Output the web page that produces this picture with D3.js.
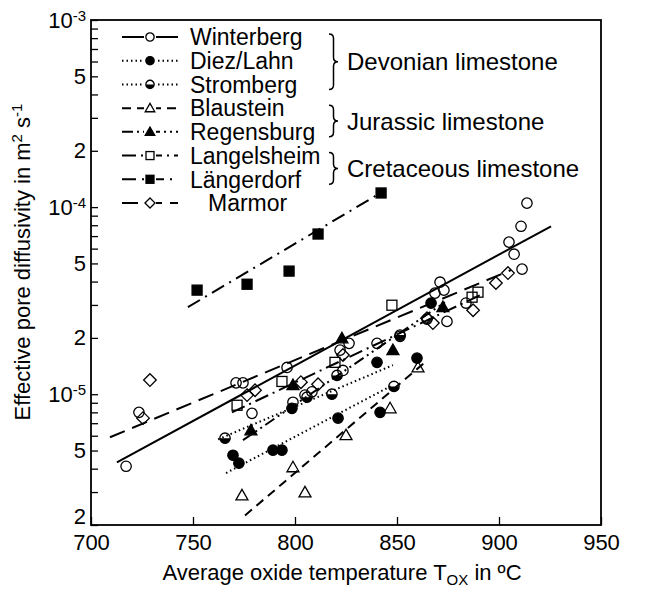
<!DOCTYPE html>
<html>
<head>
<meta charset="utf-8">
<script src="https://cdn.jsdelivr.net/npm/d3@7"></script>
<style>
  body { margin: 0; background: #fff; }
  text { font-family: "Liberation Sans", Arial, sans-serif; fill: #000; }
</style>
</head>
<body>
<div id="chart"></div>
<script>
// ---- data: [temperature °C, diffusivity m2/s] ----
const seriesNames = ["Winterberg", "Diez/Lahn", "Stromberg", "Blaustein", "Regensburg", "Langelsheim", "Längerdorf", "Marmor"];

const winterberg = [[717.2,4.12e-6],[723.5,8.0e-6],[771.1,1.15e-5],[774.5,1.15e-5],[778.9,7.9e-6],[796.1,1.39e-5],
  [799.0,9.06e-6],[804.9,9.9e-6],[808.3,1.03e-5],[823.5,1.34e-5],[822.1,1.72e-5],[826.5,1.87e-5],[840.2,1.87e-5],
  [851.5,2.04e-5],[864.7,2.52e-5],[871.1,3.97e-5],[868.6,3.47e-5],[873.0,3.6e-5],[874.5,2.45e-5],[883.8,3.07e-5],
  [904.9,6.5e-5],[907.4,5.6e-5],[911.3,4.66e-5],[910.8,7.9e-5],[913.7,1.05e-4]];
const diezLahn = [[769.6,4.72e-6],[772.5,4.28e-6],[789.2,5.02e-6],[793.6,5.02e-6],[798.5,8.41e-6],[821.1,7.45e-6],
  [840.2,1.48e-5],[841.7,8.0e-6],[859.8,1.56e-5],[866.7,3.07e-5]];
const stromberg = [[765.7,5.82e-6],[805.9,9.64e-6],[818.1,1.0e-5],[820.6,1.26e-5],[848.5,1.1e-5],[851.5,2.07e-5]];
const blaustein = [[774.0,2.88e-6],[799.0,4.07e-6],[804.9,2.99e-6],[825.0,6.04e-6],[846.6,8.41e-6],[860.3,1.39e-5]];
const regensburg = [[778.4,6.41e-6],[799.0,1.12e-5],[823.0,1.99e-5],[848.0,1.72e-5],[872.5,2.92e-5]];
const langelsheim = [[771.6,8.73e-6],[793.6,1.17e-5],[819.6,1.48e-5],[847.5,2.99e-5],[886.8,3.3e-5],[889.7,3.51e-5]];
const laengerdorf = [[752.0,3.6e-5],[776.5,3.87e-5],[797.1,4.55e-5],[811.3,7.18e-5],[842.2,1.19e-4]];
const marmor = [[728.9,1.19e-5],[725.5,7.45e-6],[776.5,9.89e-6],[780.4,1.05e-5],[802.9,1.16e-5],[811.3,1.13e-5],
  [823.5,1.62e-5],[864.7,2.55e-5],[867.6,2.4e-5],[887.3,2.81e-5],[898.5,3.93e-5],[904.4,4.44e-5]];

// fitted lines, start and end
const winterbergFit = [[712.7,4.32e-6],[925.5,7.9e-5]];
const diezLahnFit = [[766.2,3.79e-6],[848.0,1.12e-5]];
const strombergFit = [[762.3,5.74e-6],[848.0,1.43e-5]];
const blausteinFit = [[775.5,2.25e-6],[863.7,1.48e-5]];
const regensburgFit = [[774.5,5.68e-6],[873.5,3.1e-5]];
const langelsheimFit = [[769.1,8.0e-6],[890.7,3.38e-5]];
const laengerdorfFit = [[747.5,2.92e-5],[840.2,1.16e-4]];
const marmorFit = [[709.3,5.89e-6],[905.9,4.61e-5]];

const xTicks = [700, 750, 800, 850, 900, 950];
const yLabelTicks = [2e-6, 5e-6, 1e-5, 2e-5, 5e-5, 1e-4, 2e-4, 5e-4, 1e-3];
const groupLabels = ["Devonian limestone", "Jurassic limestone", "Cretaceous limestone"];
const groupMembers = [[0, 2], [3, 4], [5, 6]];

const seriesPoints = [winterberg, diezLahn, stromberg, blaustein, regensburg, langelsheim, laengerdorf, marmor];
const seriesFits = [winterbergFit, diezLahnFit, strombergFit, blausteinFit, regensburgFit, langelsheimFit, laengerdorfFit, marmorFit];

// ---- styles ----
const markers = ["circle", "dot", "half", "triangle", "triangleFilled", "square", "squareFilled", "diamond"];
const dashes = [null, "1.5,3", "1.5,3", "9,6", "11,4,2,4,2,4", "14,5,2,5", "14,6,2,6", "16,8"];

const W = 649, H = 594;
const margin = { top: 20, right: 48, bottom: 69, left: 91 };

const svg = d3.select("#chart").append("svg")
    .attr("width", W)
    .attr("height", H);

const x = d3.scaleLinear()
    .domain([700, 950])
    .range([margin.left, W - margin.right]);

const y = d3.scaleLog()
    .domain([2e-6, 1e-3])
    .range([H - margin.bottom, margin.top]);

// marker drawing
function drawMarker(g, type, s) {
    const k = s || 1;
    if (type === "circle" || type === "dot") {
        g.append("circle").attr("r", 5.2 * k)
            .attr("fill", type === "dot" ? "#000" : "none")
            .attr("stroke", "#000").attr("stroke-width", 1.3);
    } else if (type === "half") {
        const r = 5.2 * k;
        g.append("path")
            .attr("d", `M${-r},0 A${r},${r} 0 0 0 ${r},0 Z`)
            .attr("fill", "#000");
        g.append("circle").attr("r", r)
            .attr("fill", "none").attr("stroke", "#000").attr("stroke-width", 1.3);
    } else if (type === "triangle" || type === "triangleFilled") {
        const a = 6 * k;
        g.append("path")
            .attr("d", `M0,${-a} L${a},${a * 0.75} L${-a},${a * 0.75} Z`)
            .attr("fill", type === "triangleFilled" ? "#000" : "none")
            .attr("stroke", "#000").attr("stroke-width", 1.3);
    } else if (type === "square" || type === "squareFilled") {
        const a = 5 * k;
        g.append("rect")
            .attr("x", -a).attr("y", -a).attr("width", 2 * a).attr("height", 2 * a)
            .attr("fill", type === "squareFilled" ? "#000" : "none")
            .attr("stroke", "#000").attr("stroke-width", 1.3);
    } else if (type === "diamond") {
        const a = 6.3 * k;
        g.append("path")
            .attr("d", `M0,${-a} L${a},0 L0,${a} L${-a},0 Z`)
            .attr("fill", "none")
            .attr("stroke", "#000").attr("stroke-width", 1.3);
    }
}

// fit lines
const line = d3.line().x(d => x(d[0])).y(d => y(d[1]));

svg.append("g").selectAll("path")
    .data(seriesFits)
    .enter()
    .append("path")
    .attr("d", line)
    .attr("fill", "none")
    .attr("stroke", "#000")
    .attr("stroke-width", 2)
    .attr("stroke-dasharray", (d, i) => dashes[i]);

// points
seriesPoints.forEach((pts, i) => {
    svg.append("g").selectAll("g")
        .data(pts)
        .enter()
        .append("g")
        .attr("transform", d => `translate(${x(d[0])},${y(d[1])})`)
        .each(function () { drawMarker(d3.select(this), markers[i]); });
});

// X axis
const xAxis = svg.append("g")
    .attr("transform", `translate(0,${H - margin.bottom})`)
    .call(d3.axisBottom(x).tickValues(xTicks).tickSizeInner(-8).tickSizeOuter(0).tickPadding(8));
xAxis.selectAll("text").attr("font-size", 22).attr("dy", "0.75em");

// Y axis
const isLabelled = d => yLabelTicks.some(v => Math.abs(v - d) / v < 1e-6);
const yAxis = svg.append("g")
    .attr("transform", `translate(${margin.left},0)`)
    .call(d3.axisLeft(y).tickValues(y.ticks()).tickSizeInner(-7).tickSizeOuter(0).tickPadding(5)
        .tickFormat(() => ""));

yAxis.selectAll(".tick text")
    .attr("font-size", 22)
    .each(function (d) {
        if (!isLabelled(d)) return;
        const t = d3.select(this);
        const e = Math.floor(Math.log10(d) + 1e-9);
        const m = Math.round(d / Math.pow(10, e));
        if (m === 1) {
            t.append("tspan").text("10");
            t.append("tspan").attr("dy", "-0.45em").attr("font-size", 15).text(e);
        } else {
            t.append("tspan").text(m);
        }
        if (d === 2e-6) t.attr("y", -9);
    });

svg.selectAll(".domain").remove();
svg.selectAll(".tick line").attr("stroke-width", 1.3);

// frame
svg.append("rect")
    .attr("x", margin.left).attr("y", margin.top)
    .attr("width", W - margin.left - margin.right)
    .attr("height", H - margin.top - margin.bottom)
    .attr("fill", "none")
    .attr("stroke", "#000")
    .attr("stroke-width", 1.8);

// axis titles
const xt = svg.append("text")
    .attr("x", (margin.left + W - margin.right) / 2 - 4)
    .attr("y", 580)
    .attr("text-anchor", "middle")
    .attr("font-size", 22);
xt.append("tspan").text("Average oxide temperature T");
xt.append("tspan").attr("dy", 5).attr("font-size", 15).text("OX");
xt.append("tspan").attr("dy", -5).text(" in ºC");

const yt = svg.append("text")
    .attr("transform", "translate(30,262) rotate(-90)")
    .attr("text-anchor", "middle")
    .attr("font-size", 22);
yt.append("tspan").text("Effective pore diffusivity in m");
yt.append("tspan").attr("dy", -8).attr("font-size", 15).text("2");
yt.append("tspan").attr("dy", 8).text(" s");
yt.append("tspan").attr("dy", -8).attr("font-size", 15).text("-1");

// legend
const legendY = d3.scaleLinear().domain([0, 7]).range([37, 203]);
const legend = svg.append("g");
seriesNames.forEach((name, i) => {
    const ly = legendY(i);
    legend.append("line")
        .attr("x1", 122).attr("x2", 178).attr("y1", ly).attr("y2", ly)
        .attr("stroke", "#000").attr("stroke-width", 2)
        .attr("stroke-dasharray", dashes[i]);
    const m = legend.append("g").attr("transform", `translate(150,${ly})`);
    m.append("rect").attr("x", -6).attr("y", -6).attr("width", 12).attr("height", 12).attr("fill", "#fff");
    drawMarker(m, markers[i], 0.8);
    legend.append("text")
        .attr("x", i === 7 ? 208 : 190)
        .attr("y", ly)
        .attr("dy", "0.36em")
        .attr("font-size", 23)
        .text(name);
});

// group braces
function brace(x0, y0, y1, w) {
    const m = (y0 + y1) / 2;
    return `M${x0},${y0} Q${x0 + w},${y0} ${x0 + w},${y0 + w} L${x0 + w},${m - w} ` +
        `Q${x0 + w},${m} ${x0 + 2 * w},${m} Q${x0 + w},${m} ${x0 + w},${m + w} ` +
        `L${x0 + w},${y1 - w} Q${x0 + w},${y1} ${x0},${y1}`;
}
groupLabels.forEach((label, i) => {
    const y0 = legendY(groupMembers[i][0]) - 3;
    const y1 = legendY(groupMembers[i][1]) + 5;
    svg.append("path")
        .attr("d", brace(329, y0, y1, 4.5))
        .attr("fill", "none")
        .attr("stroke", "#000")
        .attr("stroke-width", 1.5);
    svg.append("text")
        .attr("x", 347)
        .attr("y", (y0 + y1) / 2)
        .attr("dy", "0.36em")
        .attr("font-size", 24)
        .text(label);
});
</script>
</body>
</html>
